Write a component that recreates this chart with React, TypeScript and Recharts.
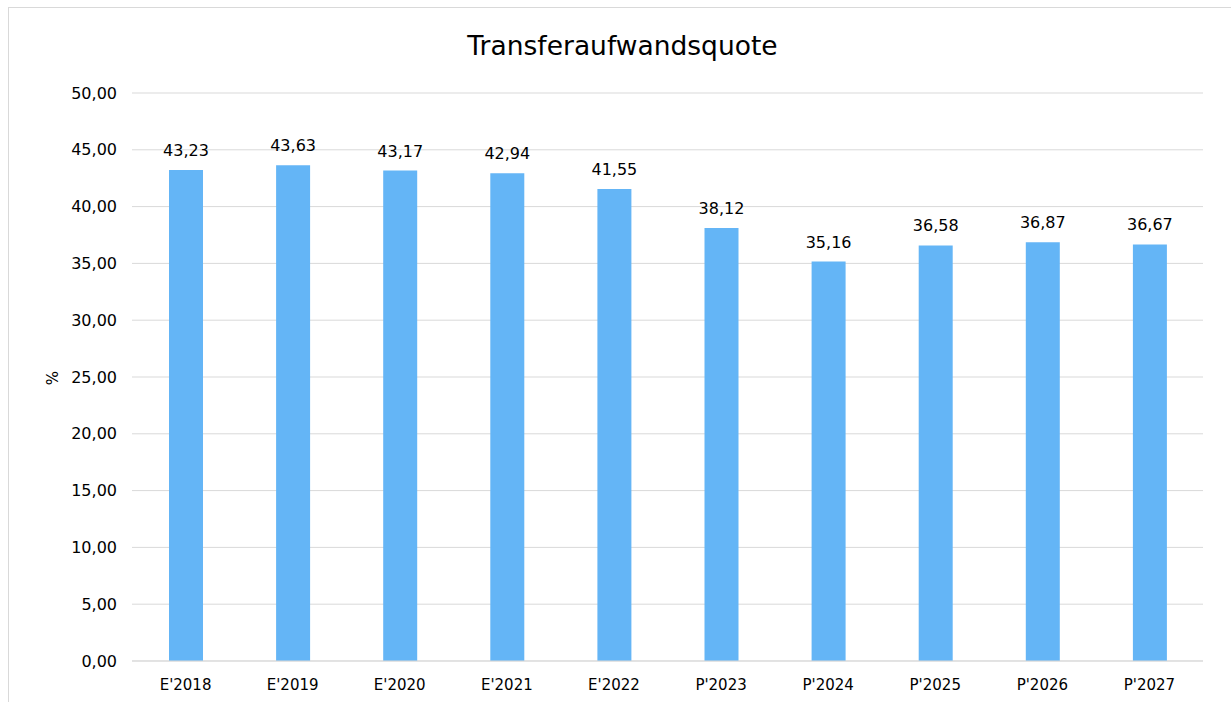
import { BarChart, Bar, XAxis, YAxis, CartesianGrid, LabelList } from 'recharts';

const years = ["E'2018", "E'2019", "E'2020", "E'2021", "E'2022", "P'2023", "P'2024", "P'2025", "P'2026", "P'2027"];
const quote = [43.23, 43.63, 43.17, 42.94, 41.55, 38.12, 35.16, 36.58, 36.87, 36.67];
const yTicks = [0, 5, 10, 15, 20, 25, 30, 35, 40, 45, 50];

const data = years.map((year, i) => ({ year, quote: quote[i] }));

const fmt = (v: number) => v.toFixed(2).replace('.', ',');

const FONT = '"DejaVu Sans", Verdana, sans-serif';

export default function App() {
  return (
    <div
      style={{
        position: 'absolute',
        top: 7,
        left: 8,
        width: 1240,
        height: 700,
        borderLeft: '1px solid #d9d9d9',
        borderTop: '1px solid #d9d9d9',
        fontFamily: FONT,
        background: '#fff',
        overflow: 'hidden',
      }}
    >
      <div
        style={{
          position: 'absolute',
          top: 22,
          left: 0,
          width: 1227,
          textAlign: 'center',
          fontSize: 26.5,
          color: '#000',
        }}
      >
        Transferaufwandsquote
      </div>
      <BarChart
        width={1222}
        height={694}
        data={data}
        margin={{ top: 85, right: 28, left: 0, bottom: 11 }}
        style={{ fontFamily: FONT }}
      >
        <CartesianGrid vertical={false} stroke="#d9d9d9" />
        <XAxis
          dataKey="year"
          tickLine={false}
          axisLine={{ stroke: '#d9d9d9' }}
          tick={{ fontSize: 15, fill: '#000' }}
          tickMargin={12}
          height={30}
        />
        <YAxis
          width={123}
          domain={[0, 50]}
          ticks={yTicks}
          tickFormatter={fmt}
          tickLine={false}
          axisLine={false}
          tickSize={0}
          tickMargin={15}
          tick={{ fontSize: 16, fill: '#000' }}
          label={{
            content: () => (
              <text x={44} y={370} transform="rotate(-90 44 370)" textAnchor="middle" dominantBaseline="central" fontSize={15} fill="#000">
                %
              </text>
            ),
          }}
        />
        <Bar dataKey="quote" fill="#64b5f6" barSize={34} isAnimationActive={false}>
          <LabelList dataKey="quote" position="top" offset={14} formatter={(v: number) => fmt(v)} style={{ fontSize: 16, fill: '#000' }} />
        </Bar>
      </BarChart>
    </div>
  );
}
